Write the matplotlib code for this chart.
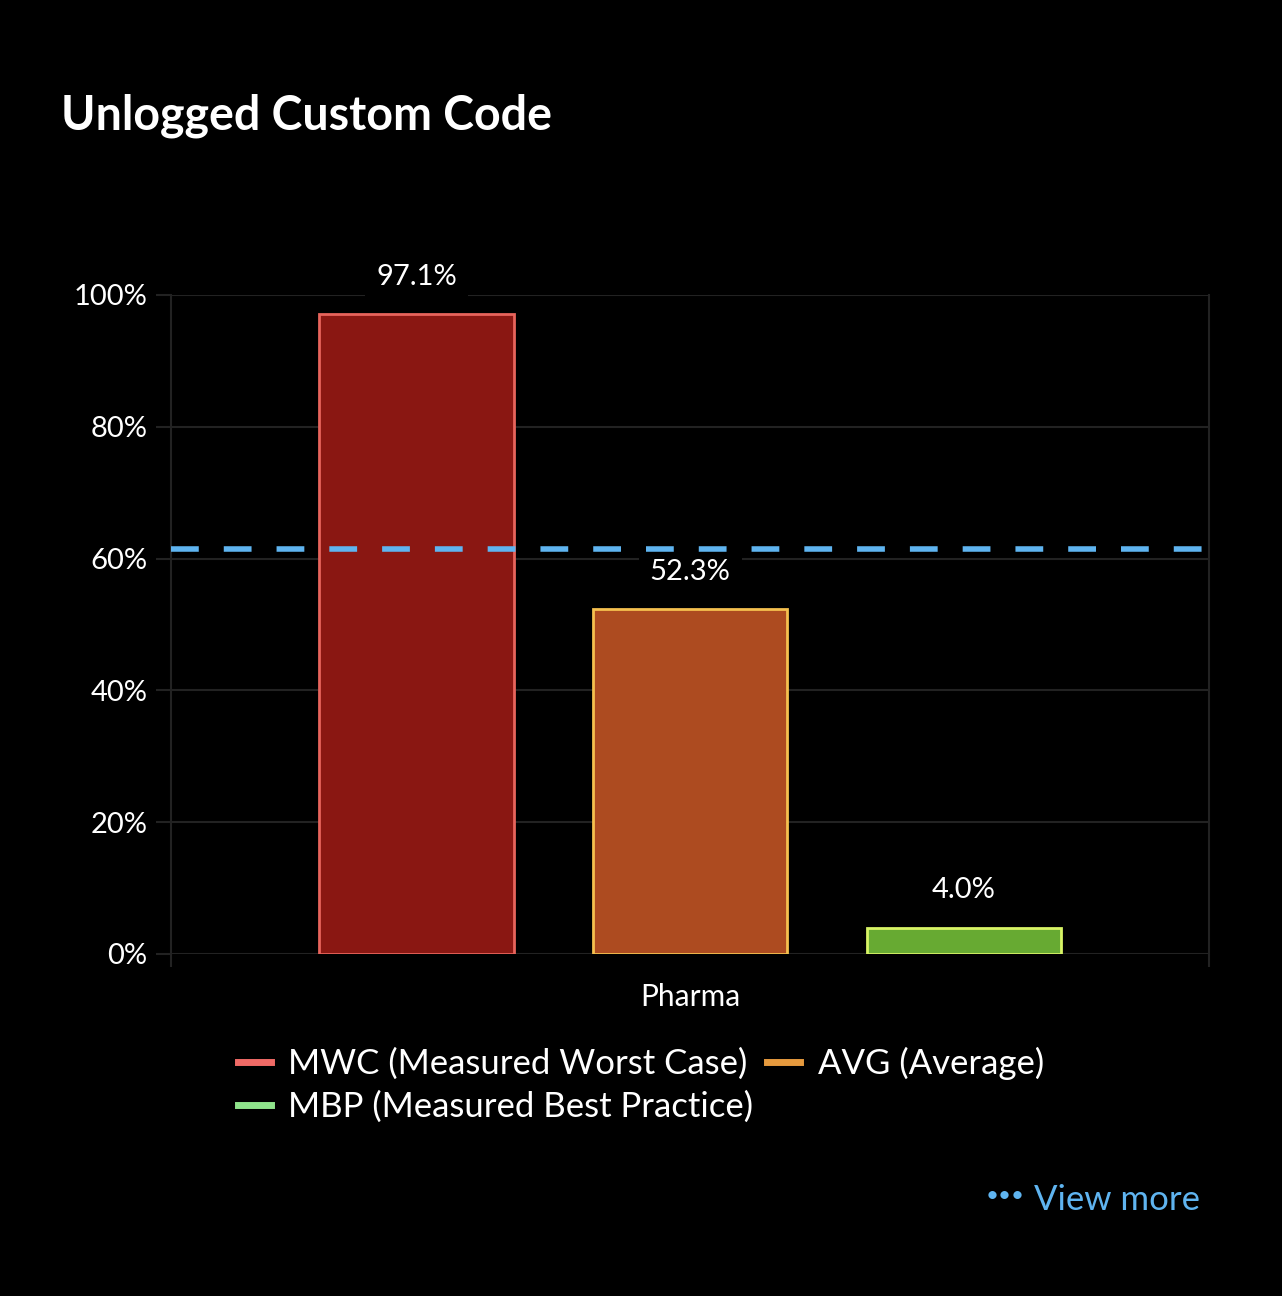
import matplotlib.pyplot as plt
from matplotlib.lines import Line2D
from matplotlib.ticker import FuncFormatter

plt.rcParams['font.family'] = ['Lato', 'DejaVu Sans']

# data
category = 'Pharma'
series_names = ['MWC (Measured Worst Case)', 'AVG (Average)', 'MBP (Measured Best Practice)']
values = [97.1, 52.3, 4.0]
benchmark = 61.5
yticks = [0, 20, 40, 60, 80, 100]

fills = ['#8a1712', '#ad4b20', '#67aa32']
edges = ['#e8645c', '#f5c04f', '#d8f466']
legend_colors = ['#f06a66', '#e69a3e', '#8fe48b']
offsets = [-0.2635, 0.0, 0.2635]
bar_w = 0.187

fig = plt.figure(figsize=(12.82, 12.96), dpi=100, facecolor='black')
ax = fig.add_axes([0.1334, 0.2639, 0.8097, 0.5085])
ax.set_facecolor('black')

for i in range(len(values)):
    ax.bar(offsets[i], values[i], width=bar_w, color=fills[i], edgecolor=edges[i],
           linewidth=2, zorder=3)
    ax.text(offsets[i], values[i] + 3.7, '%.1f%%' % values[i], ha='center', va='bottom',
            color='white', fontsize=21, zorder=4,
            bbox=dict(facecolor='black', edgecolor='none', pad=8))

ax.axhline(benchmark, xmin=0, xmax=0.996, color='#5fb4f0', linewidth=4,
           linestyle=(0, (5, 4.5)), zorder=5)

ax.set_xlim(-0.5, 0.5)
ax.set_ylim(0, 100)
ax.set_yticks(yticks)
ax.yaxis.set_major_formatter(FuncFormatter(lambda v, p: '%d%%' % v))
ax.set_xticks([-0.5, 0.5])
ax.set_xticklabels(['', ''])
ax.text(0.0, -4.4, category, ha='center', va='top', color='white', fontsize=21.5)

ax.grid(axis='y', color='#222222', linewidth=1.5, zorder=0)
ax.tick_params(axis='y', colors='#222222', labelcolor='white', labelsize=21,
               length=11, width=1.5, pad=6)
ax.tick_params(axis='x', colors='#222222', length=9, width=1.5)
for s in ['top', 'bottom']:
    ax.spines[s].set_visible(False)
for s in ['left', 'right']:
    ax.spines[s].set_color('#222222')
    ax.spines[s].set_linewidth(1.5)

fig.text(0.0476, 0.911, 'Unlogged Custom Code', color='white', fontsize=33.5,
         fontweight='bold', ha='left', va='center')

order = [0, 2, 1]
handles = [Line2D([0], [0], color=legend_colors[i], linewidth=5) for i in order]
labels = [series_names[i] for i in order]
leg = fig.legend(handles, labels, ncol=2, loc='center', bbox_to_anchor=(0.5, 0.163),
                 frameon=False, fontsize=25, labelcolor='white', handlelength=0.95,
                 handletextpad=0.5, columnspacing=0.4, labelspacing=0.3)

fig.text(0.784, 0.077, '\u2022\u2022\u2022', color='#5fb4f0', fontsize=16,
         ha='center', va='center')
fig.text(0.936, 0.074, 'View more', color='#5fb4f0', fontsize=25, ha='right',
         va='center')

fig.savefig('out.png', dpi=100, facecolor='black')
